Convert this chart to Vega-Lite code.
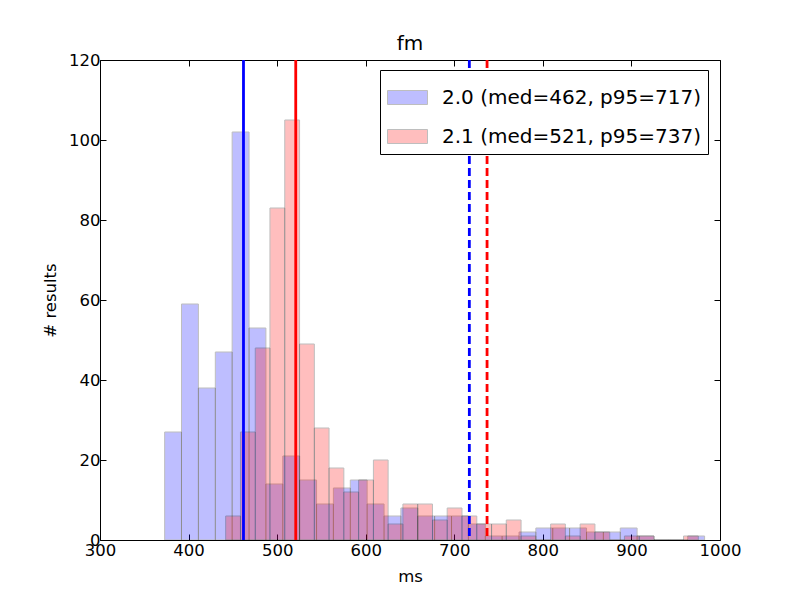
{
  "$schema": "https://vega.github.io/schema/vega-lite/v6.json",
  "description": "Histogram of fm timings for 2.0 and 2.1 with median and p95 lines.",
  "width": 620,
  "height": 480,
  "autosize": {"type": "none"},
  "padding": {"left": 100, "top": 60, "right": 80, "bottom": 60},
  "title": {"text": "fm", "font": "DejaVu Sans", "fontSize": 20, "fontWeight": "normal", "color": "black", "offset": -2},
  "datasets": {
    "blue": [
      {"series": "2.0 (med=462, p95=717)", "start": 373, "end": 392, "count": 27},
      {"series": "2.0 (med=462, p95=717)", "start": 392, "end": 411.1, "count": 59},
      {"series": "2.0 (med=462, p95=717)", "start": 411.1, "end": 430.2, "count": 38},
      {"series": "2.0 (med=462, p95=717)", "start": 430.2, "end": 449.2, "count": 47},
      {"series": "2.0 (med=462, p95=717)", "start": 449.2, "end": 468.3, "count": 102},
      {"series": "2.0 (med=462, p95=717)", "start": 468.3, "end": 487.3, "count": 53},
      {"series": "2.0 (med=462, p95=717)", "start": 487.3, "end": 506.4, "count": 14},
      {"series": "2.0 (med=462, p95=717)", "start": 506.4, "end": 525.4, "count": 21},
      {"series": "2.0 (med=462, p95=717)", "start": 525.4, "end": 544.5, "count": 15},
      {"series": "2.0 (med=462, p95=717)", "start": 544.5, "end": 563.5, "count": 9},
      {"series": "2.0 (med=462, p95=717)", "start": 563.5, "end": 582.6, "count": 13},
      {"series": "2.0 (med=462, p95=717)", "start": 582.6, "end": 601.6, "count": 15},
      {"series": "2.0 (med=462, p95=717)", "start": 601.6, "end": 620.7, "count": 9},
      {"series": "2.0 (med=462, p95=717)", "start": 620.7, "end": 639.7, "count": 6},
      {"series": "2.0 (med=462, p95=717)", "start": 639.7, "end": 658.8, "count": 8},
      {"series": "2.0 (med=462, p95=717)", "start": 658.8, "end": 677.8, "count": 6},
      {"series": "2.0 (med=462, p95=717)", "start": 677.8, "end": 696.9, "count": 6},
      {"series": "2.0 (med=462, p95=717)", "start": 696.9, "end": 715.9, "count": 6},
      {"series": "2.0 (med=462, p95=717)", "start": 715.9, "end": 735, "count": 4},
      {"series": "2.0 (med=462, p95=717)", "start": 735, "end": 754, "count": 1},
      {"series": "2.0 (med=462, p95=717)", "start": 754, "end": 773.1, "count": 1},
      {"series": "2.0 (med=462, p95=717)", "start": 773.1, "end": 792.1, "count": 2},
      {"series": "2.0 (med=462, p95=717)", "start": 792.1, "end": 811.2, "count": 3},
      {"series": "2.0 (med=462, p95=717)", "start": 811.2, "end": 830.2, "count": 3},
      {"series": "2.0 (med=462, p95=717)", "start": 830.2, "end": 849.3, "count": 3},
      {"series": "2.0 (med=462, p95=717)", "start": 849.3, "end": 868.3, "count": 2},
      {"series": "2.0 (med=462, p95=717)", "start": 868.3, "end": 887.4, "count": 2},
      {"series": "2.0 (med=462, p95=717)", "start": 887.4, "end": 906.4, "count": 3},
      {"series": "2.0 (med=462, p95=717)", "start": 906.4, "end": 925.5, "count": 1},
      {"series": "2.0 (med=462, p95=717)", "start": 925.5, "end": 944.5, "count": 0},
      {"series": "2.0 (med=462, p95=717)", "start": 944.5, "end": 963.6, "count": 0},
      {"series": "2.0 (med=462, p95=717)", "start": 963.6, "end": 982.6, "count": 1}
    ],
    "red": [
      {"series": "2.1 (med=521, p95=737)", "start": 441.9, "end": 458.6, "count": 6},
      {"series": "2.1 (med=521, p95=737)", "start": 458.6, "end": 475.3, "count": 27},
      {"series": "2.1 (med=521, p95=737)", "start": 475.3, "end": 491.9, "count": 48},
      {"series": "2.1 (med=521, p95=737)", "start": 491.9, "end": 508.6, "count": 83},
      {"series": "2.1 (med=521, p95=737)", "start": 508.6, "end": 525.3, "count": 105},
      {"series": "2.1 (med=521, p95=737)", "start": 525.3, "end": 542, "count": 49},
      {"series": "2.1 (med=521, p95=737)", "start": 542, "end": 558.6, "count": 28},
      {"series": "2.1 (med=521, p95=737)", "start": 558.6, "end": 575.3, "count": 18},
      {"series": "2.1 (med=521, p95=737)", "start": 575.3, "end": 592, "count": 12},
      {"series": "2.1 (med=521, p95=737)", "start": 592, "end": 608.7, "count": 15},
      {"series": "2.1 (med=521, p95=737)", "start": 608.7, "end": 625.3, "count": 20},
      {"series": "2.1 (med=521, p95=737)", "start": 625.3, "end": 642, "count": 4},
      {"series": "2.1 (med=521, p95=737)", "start": 642, "end": 658.7, "count": 9},
      {"series": "2.1 (med=521, p95=737)", "start": 658.7, "end": 675.4, "count": 9},
      {"series": "2.1 (med=521, p95=737)", "start": 675.4, "end": 692, "count": 5},
      {"series": "2.1 (med=521, p95=737)", "start": 692, "end": 708.7, "count": 8},
      {"series": "2.1 (med=521, p95=737)", "start": 708.7, "end": 725.4, "count": 6},
      {"series": "2.1 (med=521, p95=737)", "start": 725.4, "end": 742.1, "count": 4},
      {"series": "2.1 (med=521, p95=737)", "start": 742.1, "end": 758.7, "count": 4},
      {"series": "2.1 (med=521, p95=737)", "start": 758.7, "end": 775.4, "count": 5},
      {"series": "2.1 (med=521, p95=737)", "start": 775.4, "end": 792.1, "count": 1},
      {"series": "2.1 (med=521, p95=737)", "start": 792.1, "end": 808.8, "count": 0},
      {"series": "2.1 (med=521, p95=737)", "start": 808.8, "end": 825.4, "count": 4},
      {"series": "2.1 (med=521, p95=737)", "start": 825.4, "end": 842.1, "count": 1},
      {"series": "2.1 (med=521, p95=737)", "start": 842.1, "end": 858.8, "count": 4},
      {"series": "2.1 (med=521, p95=737)", "start": 858.8, "end": 875.5, "count": 2},
      {"series": "2.1 (med=521, p95=737)", "start": 875.5, "end": 892.1, "count": 0},
      {"series": "2.1 (med=521, p95=737)", "start": 892.1, "end": 908.8, "count": 1},
      {"series": "2.1 (med=521, p95=737)", "start": 908.8, "end": 925.5, "count": 1},
      {"series": "2.1 (med=521, p95=737)", "start": 925.5, "end": 942.2, "count": 0},
      {"series": "2.1 (med=521, p95=737)", "start": 942.2, "end": 958.8, "count": 0},
      {"series": "2.1 (med=521, p95=737)", "start": 958.8, "end": 975.5, "count": 1}
    ],
    "blueLines": [
      {"ms": 462, "kind": "med"},
      {"ms": 717, "kind": "p95"}
    ],
    "redLines": [
      {"ms": 521, "kind": "med"},
      {"ms": 737, "kind": "p95"}
    ]
  },
  "layer": [
    {
      "data": {"name": "blue"},
      "mark": {"type": "rect", "opacity": 0.25, "stroke": "black", "strokeWidth": 1},
      "encoding": {
        "x": {
          "field": "start", "type": "quantitative",
          "scale": {"domain": [300, 1000], "nice": false, "zero": false},
          "axis": {"orient": "bottom", "title": "ms", "format": "d", "values": [300, 400, 500, 600, 700, 800, 900, 1000], "labelPadding": 8, "titlePadding": 10}
        },
        "x2": {"field": "end"},
        "y": {
          "field": "count", "type": "quantitative",
          "scale": {"domain": [0, 120], "nice": false},
          "axis": {"orient": "left", "title": "# results", "values": [0, 20, 40, 60, 80, 100, 120], "titlePadding": 10}
        },
        "y2": {"datum": 0},
        "color": {
          "field": "series", "type": "nominal",
          "scale": {"domain": ["2.0 (med=462, p95=717)", "2.1 (med=521, p95=737)"], "range": ["#0000ff", "#ff0000"]},
          "legend": {"title": null}
        }
      }
    },
    {
      "data": {"name": "red"},
      "mark": {"type": "rect", "opacity": 0.25, "stroke": "black", "strokeWidth": 1},
      "encoding": {
        "x": {
          "field": "start", "type": "quantitative",
          "scale": {"domain": [300, 1000], "nice": false, "zero": false},
          "axis": {"orient": "top", "title": null, "labels": false, "values": [300, 400, 500, 600, 700, 800, 900, 1000]}
        },
        "x2": {"field": "end"},
        "y": {
          "field": "count", "type": "quantitative",
          "scale": {"domain": [0, 120], "nice": false},
          "axis": {"orient": "right", "title": null, "labels": false, "values": [0, 20, 40, 60, 80, 100, 120]}
        },
        "y2": {"datum": 0},
        "color": {"field": "series", "type": "nominal", "legend": {"title": null}}
      }
    },
    {
      "data": {"name": "blueLines"},
      "mark": {"type": "rule", "color": "#0000ff", "strokeWidth": 2.8},
      "encoding": {
        "x": {"field": "ms", "type": "quantitative", "axis": null},
        "strokeDash": {
          "field": "kind", "type": "nominal",
          "scale": {"domain": ["med", "p95"], "range": [[1, 0], [8, 4]]},
          "legend": null
        }
      }
    },
    {
      "data": {"name": "redLines"},
      "mark": {"type": "rule", "color": "#ff0000", "strokeWidth": 2.8},
      "encoding": {
        "x": {"field": "ms", "type": "quantitative", "axis": null},
        "strokeDash": {"field": "kind", "type": "nominal", "legend": null}
      }
    }
  ],
  "resolve": {"axis": {"x": "independent", "y": "independent"}},
  "config": {
    "font": "DejaVu Sans",
    "view": {"stroke": "black", "strokeWidth": 1},
    "axis": {
      "domain": false,
      "grid": false,
      "labelFont": "DejaVu Sans",
      "labelFontSize": 16.5,
      "labelColor": "black",
      "labelPadding": 6,
      "labelFlush": false,
      "labelOverlap": false,
      "tickColor": "black",
      "tickSize": -6,
      "tickWidth": 1,
      "titleFont": "DejaVu Sans",
      "titleFontSize": 16.5,
      "titleFontWeight": "normal",
      "titleColor": "black"
    },
    "legend": {
      "orient": "none",
      "legendX": 280,
      "legendY": 10,
      "fillColor": "white",
      "strokeColor": "black",
      "padding": 7,
      "cornerRadius": 0,
      "labelFont": "DejaVu Sans",
      "labelFontSize": 20,
      "labelColor": "black",
      "labelLimit": 400,
      "labelOffset": 14,
      "rowPadding": 8,
      "symbolType": "M-1,-0.35H1V0.35H-1Z",
      "symbolSize": 1600,
      "symbolOpacity": 0.25,
      "symbolStrokeColor": "black",
      "symbolStrokeWidth": 1
    }
  }
}
